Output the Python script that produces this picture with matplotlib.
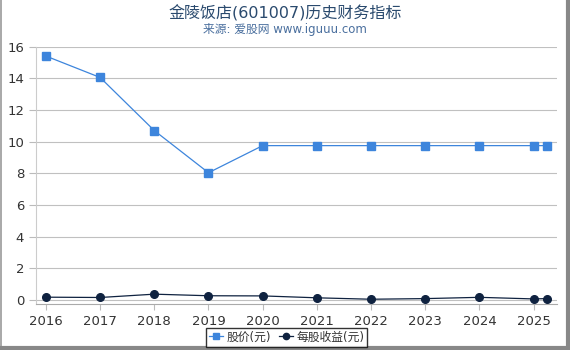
import matplotlib
matplotlib.use('Agg')
import matplotlib.pyplot as plt
from matplotlib.lines import Line2D

plt.rcParams['font.family'] = ['DejaVu Sans', 'Noto Sans CJK SC']

# --- data ---
years = [2016, 2017, 2018, 2019, 2020, 2021, 2022, 2023, 2024, 2025, 2025.25]
price = [15.4, 14.05, 10.7, 8.04, 9.75, 9.75, 9.75, 9.75, 9.75, 9.75, 9.75]
eps = [0.19, 0.17, 0.38, 0.28, 0.27, 0.15, 0.06, 0.10, 0.18, 0.08, 0.10]
xticks = [2016, 2017, 2018, 2019, 2020, 2021, 2022, 2023, 2024, 2025]
yticks = [0, 2, 4, 6, 8, 10, 12, 14, 16]

title = "金陵饭店(601007)历史财务指标"
subtitle = "来源: 爱股网 www.iguuu.com"

price_color = '#3d85dc'
eps_color = '#0f2240'

fig = plt.figure(figsize=(5.7, 3.5), dpi=100)
ax = fig.add_axes([0.063, 0.131, 0.914, 0.736])

ax.plot(years, price, color=price_color, linewidth=0.9, marker='s',
        markersize=5.5, label='股价(元)', zorder=3)
ax.plot(years, eps, color=eps_color, linewidth=0.9, marker='o',
        markersize=5.5, label='每股收益(元)', zorder=4)

ax.set_xlim(2015.815, 2025.43)
ax.set_ylim(-0.25, 16)
ax.set_xticks(xticks)
ax.set_yticks(yticks)
ax.tick_params(axis='both', labelsize=9.5, colors='#333333', length=4,
               width=0.8)
ax.tick_params(axis='y', length=5, color='#bbbbbb')
ax.tick_params(axis='x', color='#bbbbbb')
ax.grid(axis='y', color='#c0c0c0', linewidth=0.8)
ax.set_axisbelow(True)

for side in ('top', 'right'):
    ax.spines[side].set_visible(False)
ax.spines['left'].set_color('#cccccc')
ax.spines['bottom'].set_color('#aaaaaa')

fig.text(0.5, 0.963, title, ha='center', va='center', fontsize=11.5,
         color='#2a4a6e')
fig.text(0.5, 0.915, subtitle, ha='center', va='center', fontsize=8.5,
         color='#4a6f9e')

handles = [Line2D([], [], color=price_color, marker='s', markersize=4.5,
                  linewidth=0.9),
           Line2D([], [], color=eps_color, marker='o', markersize=4.5,
                  linewidth=0.9)]
leg = fig.legend(handles, ['股价(元)', '每股收益(元)'], loc='center',
                 bbox_to_anchor=(0.503, 0.037), ncol=2, fontsize=8.5,
                 frameon=True, fancybox=False, handlelength=1.2,
                 handletextpad=0.3, columnspacing=0.6, borderpad=0.25)
leg.get_frame().set_edgecolor('black')
leg.get_frame().set_linewidth(1.0)
for t in leg.get_texts():
    t.set_color('#333333')

# grey border: thin on the left, heavier on the right and bottom
fig.add_artist(Line2D([0.001, 0.001], [0.0, 1.0], color='#999999',
                      linewidth=1.2, transform=fig.transFigure))
fig.add_artist(Line2D([0.0, 1.0], [0.005, 0.005], color='#888888',
                      linewidth=3, transform=fig.transFigure))
fig.add_artist(Line2D([0.9965, 0.9965], [0.0, 1.0], color='#888888',
                      linewidth=3, transform=fig.transFigure))

fig.savefig('out.png', dpi=100)
